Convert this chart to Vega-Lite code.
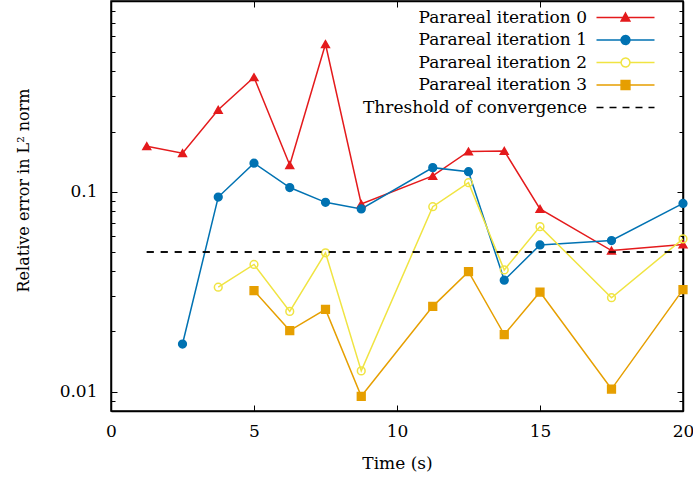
{
  "$schema": "https://vega.github.io/schema/vega-lite/v6.json",
  "width": 572,
  "height": 410,
  "autosize": "none",
  "padding": {"left": 111, "top": 1, "right": 10, "bottom": 69},
  "background": "white",
  "data": {
    "values": [
      {"t": 1.25, "err": 0.169, "series": "Parareal iteration 0"},
      {"t": 2.5, "err": 0.156, "series": "Parareal iteration 0"},
      {"t": 3.75, "err": 0.257, "series": "Parareal iteration 0"},
      {"t": 5, "err": 0.374, "series": "Parareal iteration 0"},
      {"t": 6.25, "err": 0.136, "series": "Parareal iteration 0"},
      {"t": 7.5, "err": 0.548, "series": "Parareal iteration 0"},
      {"t": 8.75, "err": 0.0868, "series": "Parareal iteration 0"},
      {"t": 11.25, "err": 0.12, "series": "Parareal iteration 0"},
      {"t": 12.5, "err": 0.159, "series": "Parareal iteration 0"},
      {"t": 13.75, "err": 0.16, "series": "Parareal iteration 0"},
      {"t": 15, "err": 0.082, "series": "Parareal iteration 0"},
      {"t": 17.5, "err": 0.0508, "series": "Parareal iteration 0"},
      {"t": 20, "err": 0.0545, "series": "Parareal iteration 0"},
      {"t": 2.5, "err": 0.0173, "series": "Parareal iteration 1"},
      {"t": 3.75, "err": 0.0941, "series": "Parareal iteration 1"},
      {"t": 5, "err": 0.139, "series": "Parareal iteration 1"},
      {"t": 6.25, "err": 0.105, "series": "Parareal iteration 1"},
      {"t": 7.5, "err": 0.0885, "series": "Parareal iteration 1"},
      {"t": 8.75, "err": 0.082, "series": "Parareal iteration 1"},
      {"t": 11.25, "err": 0.132, "series": "Parareal iteration 1"},
      {"t": 12.5, "err": 0.126, "series": "Parareal iteration 1"},
      {"t": 13.75, "err": 0.0361, "series": "Parareal iteration 1"},
      {"t": 15, "err": 0.0542, "series": "Parareal iteration 1"},
      {"t": 17.5, "err": 0.057, "series": "Parareal iteration 1"},
      {"t": 20, "err": 0.0874, "series": "Parareal iteration 1"},
      {"t": 3.75, "err": 0.0333, "series": "Parareal iteration 2"},
      {"t": 5, "err": 0.0433, "series": "Parareal iteration 2"},
      {"t": 6.25, "err": 0.0252, "series": "Parareal iteration 2"},
      {"t": 7.5, "err": 0.0495, "series": "Parareal iteration 2"},
      {"t": 8.75, "err": 0.0127, "series": "Parareal iteration 2"},
      {"t": 11.25, "err": 0.0842, "series": "Parareal iteration 2"},
      {"t": 12.5, "err": 0.111, "series": "Parareal iteration 2"},
      {"t": 13.75, "err": 0.0406, "series": "Parareal iteration 2"},
      {"t": 15, "err": 0.0669, "series": "Parareal iteration 2"},
      {"t": 17.5, "err": 0.0295, "series": "Parareal iteration 2"},
      {"t": 20, "err": 0.0581, "series": "Parareal iteration 2"},
      {"t": 5, "err": 0.032, "series": "Parareal iteration 3"},
      {"t": 6.25, "err": 0.0202, "series": "Parareal iteration 3"},
      {"t": 7.5, "err": 0.0258, "series": "Parareal iteration 3"},
      {"t": 8.75, "err": 0.00948, "series": "Parareal iteration 3"},
      {"t": 11.25, "err": 0.0267, "series": "Parareal iteration 3"},
      {"t": 12.5, "err": 0.0398, "series": "Parareal iteration 3"},
      {"t": 13.75, "err": 0.0193, "series": "Parareal iteration 3"},
      {"t": 15, "err": 0.0315, "series": "Parareal iteration 3"},
      {"t": 17.5, "err": 0.0103, "series": "Parareal iteration 3"},
      {"t": 20, "err": 0.0324, "series": "Parareal iteration 3"},
      {"t": 1.25, "err": 0.05, "series": "Threshold of convergence"},
      {"t": 20, "err": 0.05, "series": "Threshold of convergence"}
    ]
  },
  "layer": [
    {
      "transform": [{"filter": "datum.series != 'Threshold of convergence'"}],
      "mark": {"type": "line", "strokeWidth": 1.5},
      "encoding": {
        "x": {
          "field": "t", "type": "quantitative",
          "scale": {"domain": [0, 20], "nice": false},
          "axis": {"orient": "bottom", "values": [0, 5, 10, 15, 20], "tickSize": -6, "labelPadding": 18, "labelFlush": false, "title": "Time (s)", "titlePadding": 16}
        },
        "y": {
          "field": "err", "type": "quantitative",
          "scale": {"type": "log", "domain": [0.008, 0.9], "nice": false},
          "axis": {"orient": "left", "values": [0.01, 0.1], "format": ".2~f", "tickSize": -6, "labelPadding": 20, "labelFlush": false, "title": "Relative error in L² norm", "titleFontSize": 16, "titlePadding": 28, "titleY": 189}
        },
        "color": {
          "field": "series", "type": "nominal",
          "scale": {
            "domain": ["Parareal iteration 0", "Parareal iteration 1", "Parareal iteration 2", "Parareal iteration 3", "Threshold of convergence"],
            "range": ["#e41a1c", "#0072b2", "#f0e442", "#e69f00", "#000000"]
          },
          "legend": {
            "title": null,
            "orient": "top-right",
            "offset": 6,
            "padding": 2,
            "labelAlign": "right",
            "labelOffset": -47,
            "labelLimit": 0,
            "labelFontSize": 17,
            "symbolSize": 64,
            "rowPadding": 4.5,
            "encode": {
              "symbols": {
                "update": {
                  "shape": {"signal": "datum.value === 'Parareal iteration 0' ? 'M-60,0M11.6,0M-7.25,0H7.25M-1.1,0.9L0,-1.1L1.1,0.9Z' : datum.value === 'Parareal iteration 1' ? 'M-60,0M11.6,0M-7.25,0H7.25M-1.1,0A1.1,1.1,0,1,0,1.1,0A1.1,1.1,0,1,0,-1.1,0Z' : datum.value === 'Parareal iteration 2' ? 'M-60,0M11.6,0M-7.25,0H-1.1M1.1,0H7.25M-1.1,0A1.1,1.1,0,1,0,1.1,0A1.1,1.1,0,1,0,-1.1,0Z' : datum.value === 'Parareal iteration 3' ? 'M-60,0M11.6,0M-7.25,0H7.25M-1.1,-1.1H1.1V1.1H-1.1Z' : 'M-60,0M11.6,0M-7.25,0H7.25'"},
                  "fill": {"signal": "datum.value === 'Parareal iteration 2' || datum.value === 'Threshold of convergence' ? 'transparent' : scale('color', datum.value)"},
                  "stroke": {"signal": "scale('color', datum.value)"},
                  "strokeDash": {"signal": "datum.value === 'Threshold of convergence' ? [7, 6] : [1, 0]"},
                  "strokeWidth": {"value": 1.5},
                  "opacity": {"value": 1}
                }
              }
            }
          }
        },
        "detail": {"field": "series"}
      }
    },
    {
      "transform": [{"filter": "datum.series == 'Threshold of convergence'"}],
      "mark": {"type": "line", "strokeWidth": 1.5, "strokeDash": [7, 7]},
      "encoding": {
        "x": {"field": "t", "type": "quantitative", "axis": {"orient": "top", "values": [0, 5, 10, 15, 20], "tickSize": -6, "labels": false, "title": null}},
        "y": {"field": "err", "type": "quantitative", "axis": {"orient": "right", "values": [0.01, 0.1], "tickSize": -6, "labels": false, "title": null}},
        "color": {"field": "series", "type": "nominal"}
      }
    },
    {
      "transform": [{"filter": "datum.series != 'Threshold of convergence'"}],
      "mark": {"type": "point", "filled": false, "strokeWidth": 1.5, "size": 60, "opacity": 1},
      "encoding": {
        "x": {"field": "t", "type": "quantitative", "axis": null},
        "y": {"field": "err", "type": "quantitative", "axis": {"orient": "left", "values": [0.009, 0.02, 0.03, 0.04, 0.05, 0.06, 0.07, 0.08, 0.09, 0.2, 0.3, 0.4, 0.5, 0.6, 0.7, 0.8], "tickSize": -4, "labels": false, "domain": false, "title": null}},
        "color": {"field": "series", "type": "nominal"},
        "fill": {
          "field": "series", "type": "nominal",
          "scale": {"domain": ["Parareal iteration 0", "Parareal iteration 1", "Parareal iteration 2", "Parareal iteration 3"], "range": ["#e41a1c", "#0072b2", "transparent", "#e69f00"]},
          "legend": null
        },
        "shape": {
          "field": "series", "type": "nominal",
          "scale": {"domain": ["Parareal iteration 0", "Parareal iteration 1", "Parareal iteration 2", "Parareal iteration 3"], "range": ["triangle-up", "circle", "circle", "square"]},
          "legend": null
        }
      }
    },
    {
      "transform": [{"filter": "datum.series == 'Threshold of convergence'"}],
      "mark": {"type": "line", "strokeWidth": 1.5, "strokeDash": [7, 7]},
      "encoding": {
        "x": {"field": "t", "type": "quantitative", "axis": null},
        "y": {"field": "err", "type": "quantitative", "axis": {"orient": "right", "values": [0.009, 0.02, 0.03, 0.04, 0.05, 0.06, 0.07, 0.08, 0.09, 0.2, 0.3, 0.4, 0.5, 0.6, 0.7, 0.8], "tickSize": -4, "labels": false, "domain": false, "title": null}},
        "color": {"field": "series", "type": "nominal"}
      }
    }
  ],
  "resolve": {"axis": {"x": "independent", "y": "independent"}},
  "config": {
    "view": {"stroke": "#000000", "strokeWidth": 1.5},
    "axis": {
      "grid": false,
      "domainColor": "#000000",
      "domainWidth": 1.5,
      "tickColor": "#000000",
      "tickWidth": 1,
      "labelFont": "DejaVu Serif",
      "labelFontSize": 17,
      "labelColor": "#000000",
      "titleFont": "DejaVu Serif",
      "titleFontSize": 17,
      "titleFontWeight": "normal",
      "titleColor": "#000000"
    },
    "legend": {
      "labelFont": "DejaVu Serif",
      "labelFontSize": 17,
      "labelColor": "#000000"
    }
  }
}
